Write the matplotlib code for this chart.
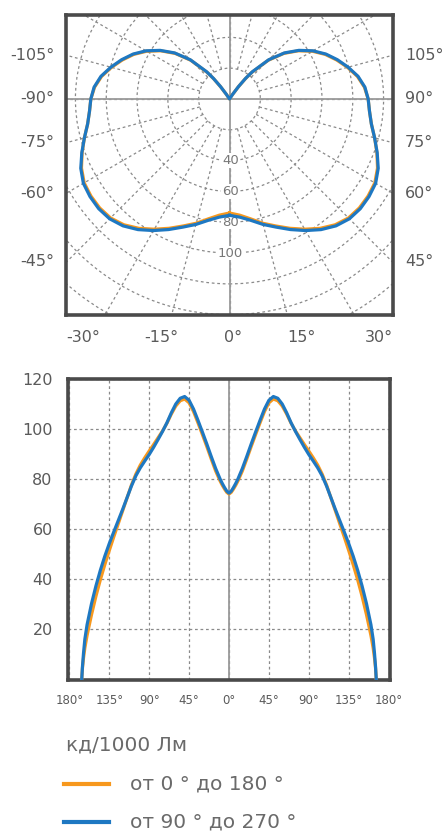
import numpy as np
import matplotlib
matplotlib.use("Agg")
import matplotlib.pyplot as plt
from matplotlib.patches import Circle

# --- data ---------------------------------------------------------------
# intensity curve (cd/1000 lm), angle from nadir, one half (mirrored)
ang = [0, 2.5, 5, 7.5, 10, 15, 20, 25, 30, 35, 40, 45, 50, 55, 60, 65, 70,
       75, 80, 85, 90, 95, 100, 105, 110, 115, 120, 125, 130, 135, 140, 145,
       150, 155, 160, 162.5, 164, 165.2, 166]
i_blue = [74.4, 75.2, 76.6, 78.2, 80, 84.2, 89, 94, 98.8, 103.5, 108, 111.5,
          113, 112.3, 110, 106.5, 102.5, 99, 95.8, 92.7, 89.8, 87.2, 84.5,
          81.3, 77.2, 72.5, 67.8, 63.3, 58.8, 54.2, 49.2, 43.6, 37.3, 30.2,
          21.8, 16, 10.5, 5, 0]
i_orange = [74, 74.7, 76, 77.5, 79.2, 83.2, 88, 93, 97.8, 102.5, 107, 110.5,
            112, 111.3, 109.2, 106, 102.3, 99.2, 96.5, 93.8, 91.2, 88.5, 85.6,
            82, 77.6, 72.4, 67.2, 62, 56.8, 51.4, 45.8, 39.8, 33.2, 25.8,
            17.5, 12.5, 8.5, 4.5, 0]

# the polar view, as drawn in the upper diagram
p_ang = [0, 5, 10, 15, 20, 25, 30, 35, 40, 45, 50, 55, 60, 65, 70, 75, 80,
         85, 90, 95, 100, 105, 110, 115, 120, 125, 130, 135, 140, 142, 144,
         146, 147]
p_blue = [75.5, 77, 80, 84.3, 88.5, 93.5, 98.6, 103.5, 107.5, 110, 110.8,
          110.5, 109.5, 106.5, 102, 97.5, 93.5, 91.2, 90, 88.2, 84.7, 79.7,
          74.5, 69, 62.5, 55, 46.5, 36, 23, 17, 10, 3.5, 0]
p_orange = [74, 75.7, 79, 83.5, 87.7, 92.6, 97.6, 102.5, 106.6, 109.2, 110,
            109.8, 108.9, 106, 101.8, 97.5, 93.5, 91.2, 90, 87.9, 84.3, 79.3,
            74, 68.5, 62, 54.5, 46, 35.5, 22.5, 16.5, 9.5, 3.2, 0]

circle_r = [20, 40, 60, 80, 100, 120, 140, 160]
circle_lbl = [40, 60, 80, 100]
side_ang = [105, 90, 75, 60, 45]
bottom_lbl = ["-30°", "-15°", "0°", "15°", "30°"]
x_ticks = [-180, -135, -90, -45, 0, 45, 90, 135, 180]
x_tick_lbl = ["180°", "135°", "90°", "45°", "0°", "45°", "90°", "135°", "180°"]
y_ticks = [20, 40, 60, 80, 100, 120]

legend_title = "кд/1000 Лм"
names = ["от 0 ° до 180 °", "от 90 ° до 270 °"]

ORANGE = "#f7981d"
BLUE = "#1e78c2"
GRID = "#8a8a8a"
FRAME = "#4a4a4a"
TXT = "#5a5a5a"
DASH = (0, (2.2, 2.2))

fig = plt.figure(figsize=(4.46, 8.32), dpi=100)

# --- upper polar-like diagram ------------------------------------------
ax = fig.add_axes([66 / 446, 1 - 315 / 832, 327 / 446, 300 / 832])
XL = 105.8
ax.set_xlim(-XL, XL)
ax.set_ylim(-140.2, 54.5)
ax.set_aspect("equal", adjustable="box")
ax.set_xticks([])
ax.set_yticks([])
for s in ax.spines.values():
    s.set_linewidth(2.6)
    s.set_color(FRAME)

for r in circle_r:
    ax.add_patch(Circle((0, 0), r, fill=False, ec=GRID, lw=0.9, ls=DASH, zorder=1))
for a in range(0, 360, 15):
    t = np.radians(a)
    ax.plot([20 * np.sin(t), 220 * np.sin(t)], [-20 * np.cos(t), -220 * np.cos(t)],
            color=GRID, lw=0.9, ls=DASH, zorder=1)
ax.axhline(0, color="#9a9a9a", lw=1.3, zorder=2)
ax.axvline(0, color="#9a9a9a", lw=1.3, zorder=2)

for r in circle_lbl:
    ax.text(0.5, -r, str(r), ha="center", va="center", fontsize=9.5, color="#777",
            zorder=3, bbox=dict(boxstyle="square,pad=0.05", fc="white", ec="none"))

for vals, col in ((p_orange, ORANGE), (p_blue, BLUE)):
    t = np.radians(np.array(p_ang))
    r = np.array(vals)
    xs = np.concatenate([-r * np.sin(t), (r * np.sin(t))[::-1]])
    ys = np.concatenate([-r * np.cos(t), (-r * np.cos(t))[::-1]])
    ax.plot(xs, ys, color=col, lw=2.3, zorder=4, solid_joinstyle="round")

for a in side_ang:
    yy = -XL / np.tan(np.radians(a))
    ax.text(-XL - 8, yy, "-%d°" % a, ha="right", va="center", fontsize=11.5, color=TXT)
    ax.text(XL + 8, yy, "%d°" % a, ha="left", va="center", fontsize=11.5, color=TXT)

bx = [-95, -44, 2.5, 47, 97]
for x, lbl in zip(bx, bottom_lbl):
    ax.text(x, -155, lbl, ha="center", va="center", fontsize=11.5, color=TXT)

# --- lower cartesian diagram -------------------------------------------
ax2 = fig.add_axes([68 / 446, 1 - 680 / 832, 322 / 446, 301 / 832])
ax2.set_xlim(-181.5, 181.5)
ax2.set_ylim(-0.3, 120)
for s in ax2.spines.values():
    s.set_linewidth(2.6)
    s.set_color(FRAME)
ax2.set_xticks(x_ticks)
ax2.set_xticklabels(x_tick_lbl)
ax2.set_yticks(y_ticks)
ax2.tick_params(length=0, colors=TXT)
ax2.tick_params(axis="x", labelsize=8.5, pad=10)
ax2.tick_params(axis="y", labelsize=11.5, pad=11)
ax2.grid(True, color=GRID, lw=0.9, ls=DASH)
ax2.axvline(0, color="#9a9a9a", lw=1.3, zorder=2)

for vals, col in ((i_orange, ORANGE), (i_blue, BLUE)):
    a = np.array(ang)
    v = np.array(vals)
    xs = np.concatenate([-a[::-1], a[1:]])
    ys = np.concatenate([v[::-1], v[1:]])
    ax2.plot(xs, ys, color=col, lw=2.3, zorder=4, solid_joinstyle="round")

# --- legend ------------------------------------------------------------
fig.text(66 / 446, 1 - 745 / 832, legend_title, ha="left", va="center",
         fontsize=14.5, color="#6a6a6a")
for k, (nm, col) in enumerate(zip(names, (ORANGE, BLUE))):
    yf = 1 - (784 + 38 * k) / 832
    fig.add_artist(plt.Line2D([64 / 446, 109 / 446], [yf, yf], color=col, lw=3))
    fig.text(130 / 446, yf, nm, ha="left", va="center", fontsize=14.5, color="#6a6a6a")

fig.savefig("out.png", dpi=100)
